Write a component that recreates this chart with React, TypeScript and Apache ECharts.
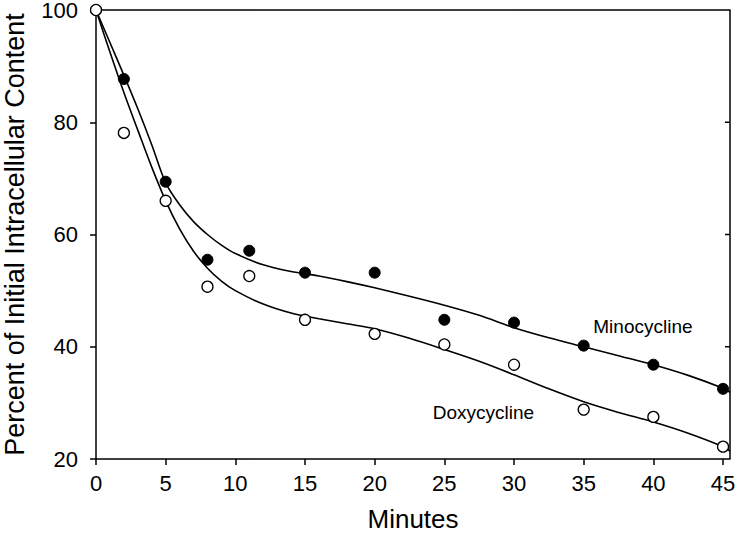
import React, { useEffect, useRef } from "react";
import * as echarts from "echarts";

const minutes = [0, 2, 5, 8, 11, 15, 20, 25, 30, 35, 40, 45];
const minocycline = [100, 87.7, 69.4, 55.5, 57.1, 53.2, 53.2, 44.8, 44.3, 40.2, 36.8, 32.5];
const doxycycline = [100, 78.1, 66.0, 50.7, 52.6, 44.8, 42.3, 40.4, 36.8, 28.8, 27.5, 22.2];

const fitX = [0, 1, 2, 3, 4, 5, 6, 7, 8, 9, 10, 12, 14, 16, 18, 20, 22.5, 25, 27.5, 30, 32.5, 35, 37.5, 40, 42.5, 45, 45.5];
const minoFit = [100, 94.2, 88.4, 82.4, 76.0, 69.2, 65.3, 62.3, 60.0, 58.1, 56.6, 54.6, 53.4, 52.6, 51.6, 50.5, 49.0, 47.4, 45.6, 43.4, 41.6, 40.0, 38.4, 36.8, 34.9, 32.6, 31.9];
const doxyFit = [100, 92.5, 85.3, 78.6, 72.0, 66.0, 61.0, 57.0, 54.0, 51.7, 50.0, 47.6, 46.0, 45.0, 44.1, 43.2, 41.5, 39.5, 37.4, 35.0, 32.5, 30.2, 28.3, 26.6, 24.6, 22.2, 21.4];

const xTicks = [0, 5, 10, 15, 20, 25, 30, 35, 40, 45];
const yTicks = [20, 40, 60, 80, 100];
const X_MAX = 45.5;

const FONT = "Liberation Sans, Arial, Helvetica, sans-serif";

export default function App() {
  const ref = useRef<HTMLDivElement>(null);
  useEffect(() => {
    if (!ref.current) return;
    const chart = echarts.init(ref.current, null, { renderer: "svg" });
    const zip = (xs: number[], ys: number[]) => xs.map((x, i) => [x, ys[i]]);
    const mkLine = () => ({ show: true, onZero: false, lineStyle: { color: "#000", width: 1.5 } });
    const tickSegs: any[] = [];
    yTicks.slice(1, -1).forEach((v) => {
      tickSegs.push([X_MAX - 0.36, v], [X_MAX, v], null);
    });
    chart.setOption({
      animation: false,
      backgroundColor: "#fff",
      grid: {
        left: 96,
        right: 16,
        top: 10,
        bottom: 75,
        containLabel: false,
        outerBoundsMode: "none",
        show: false,
      },
      xAxis: [
        {
          type: "value",
          min: 0,
          max: X_MAX,
          interval: 5,
          position: "bottom",
          name: "Minutes",
          nameLocation: "middle",
          nameGap: 47,
          nameTextStyle: { fontSize: 26, color: "#000", fontFamily: FONT },
          axisLine: mkLine(),
          axisTick: { show: true, inside: false, length: 6, lineStyle: { color: "#000", width: 1.5 } },
          axisLabel: {
            fontSize: 22,
            color: "#000",
            fontFamily: FONT,
            margin: 13,
            showMaxLabel: false,
            formatter: (v: number) => (xTicks.includes(v) ? String(v) : ""),
          },
          splitLine: { show: false },
        },
        {
          type: "value",
          min: 0,
          max: X_MAX,
          position: "top",
          axisLine: mkLine(),
          axisTick: { show: false },
          axisLabel: { show: false },
          splitLine: { show: false },
        },
      ],
      yAxis: [
        {
          type: "value",
          min: 20,
          max: 100,
          interval: 20,
          position: "left",
          name: "Percent of Initial Intracellular Content",
          nameLocation: "middle",
          nameRotate: 90,
          nameGap: 68,
          nameTextStyle: { fontSize: 27, color: "#000", fontFamily: FONT },
          axisLine: mkLine(),
          axisTick: { show: true, inside: false, length: 6, lineStyle: { color: "#000", width: 1.5 } },
          axisLabel: {
            fontSize: 22,
            color: "#000",
            fontFamily: FONT,
            margin: 18,
            formatter: (v: number) => (yTicks.includes(v) ? String(v) : ""),
          },
          splitLine: { show: false },
        },
      ],
      series: [
        {
          type: "line",
          name: "frame",
          data: [[X_MAX, 20], [X_MAX, 100]],
          symbol: "none",
          clip: false,
          lineStyle: { color: "#000", width: 1.5 },
          z: 5,
          silent: true,
        },
        {
          type: "line",
          name: "frameTicks",
          data: tickSegs,
          connectNulls: false,
          symbol: "none",
          clip: false,
          lineStyle: { color: "#000", width: 1.5 },
          z: 5,
          silent: true,
        },
        {
          type: "line",
          data: zip(fitX, minoFit),
          smooth: 0.3,
          symbol: "none",
          lineStyle: { color: "#000", width: 1.6 },
          z: 2,
          markPoint: {
            symbol: "circle",
            symbolSize: 0,
            data: [{ coord: [39.25, 43.56], value: "Minocycline" }],
            label: {
              show: true,
              position: "inside",
              formatter: "Minocycline",
              fontSize: 19,
              color: "#000",
              fontFamily: FONT,
            },
          },
        },
        {
          type: "line",
          data: zip(fitX, doxyFit),
          smooth: 0.3,
          symbol: "none",
          lineStyle: { color: "#000", width: 1.6 },
          z: 2,
          markPoint: {
            symbol: "circle",
            symbolSize: 0,
            data: [{ coord: [27.8, 28.25], value: "Doxycycline" }],
            label: {
              show: true,
              position: "inside",
              formatter: "Doxycycline",
              fontSize: 19,
              color: "#000",
              fontFamily: FONT,
            },
          },
        },
        {
          type: "scatter",
          data: zip(minutes, minocycline),
          symbol: "circle",
          symbolSize: 11,
          itemStyle: { color: "#000", borderColor: "#000", borderWidth: 1, opacity: 1 },
          z: 3,
          clip: false,
        },
        {
          type: "scatter",
          data: zip(minutes, doxycycline),
          symbol: "circle",
          symbolSize: 11,
          itemStyle: { color: "#fff", borderColor: "#000", borderWidth: 1.3, opacity: 1 },
          z: 4,
          clip: false,
        },
      ],
    });
    return () => chart.dispose();
  }, []);
  return (
    <div
      ref={ref}
      style={{ width: 746, height: 534, position: "fixed", left: 0, top: 0, overflow: "hidden" }}
    />
  );
}
